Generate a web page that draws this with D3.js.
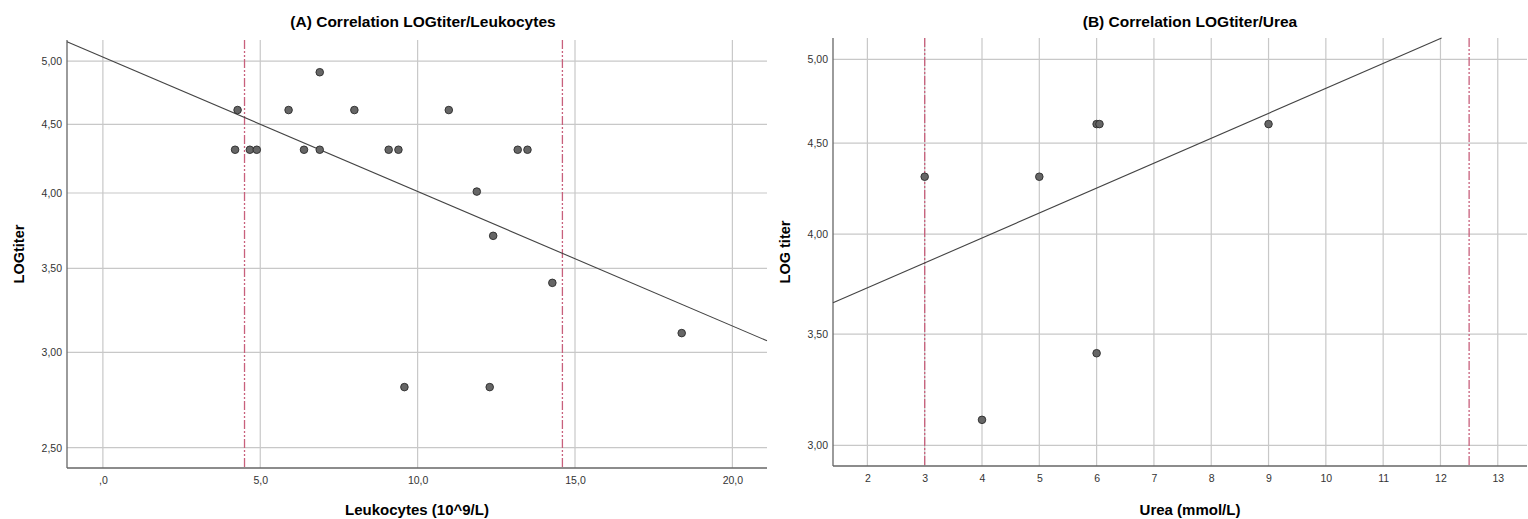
<!DOCTYPE html>
<html>
<head>
<meta charset="utf-8">
<script src="https://cdn.jsdelivr.net/npm/d3@7"></script>
<style>
  body { margin: 0; background: #fff; }
  svg { display: block; font-family: "Liberation Sans", Arial, sans-serif; }
</style>
</head>
<body>
<svg width="1528" height="519"></svg>
<script>
// panel A: leukocytes vs LOG titer
var leukoX = [4.2, 4.28, 4.67, 4.89, 5.9, 6.39, 6.89, 6.89, 7.99, 9.08, 9.39, 10.99, 11.88, 12.4, 13.18, 13.49, 14.28, 18.39, 9.58, 12.29];
var leukoY = [4.31, 4.61, 4.31, 4.31, 4.61, 4.31, 4.91, 4.31, 4.61, 4.31, 4.31, 4.61, 4.01, 3.71, 4.31, 4.31, 3.41, 3.11, 2.81, 2.81];
var leukoTicksX = [0, 5, 10, 15, 20];
var leukoTicksY = [2.5, 3, 3.5, 4, 4.5, 5];
var leukoRefLines = [4.5, 14.6];
var leukoFit = [[-1.14, 5.163], [21.1, 3.066]];

// panel B: urea vs LOG titer
var ureaX = [3, 5, 6, 6.05, 9, 4, 6];
var ureaY = [4.31, 4.31, 4.61, 4.61, 4.61, 3.11, 3.41];
var ureaTicksX = [2, 3, 4, 5, 6, 7, 8, 9, 10, 11, 12, 13];
var ureaTicksY = [3, 3.5, 4, 4.5, 5];
var ureaRefLines = [3, 12.5];
var ureaFit = [[1.4, 3.651], [12.02, 5.134]];

var svg = d3.select("svg");

function comma(dec) {
  return function(d) {
    var s = d3.format("." + dec + "f")(d).replace(".", ",");
    if (dec > 0 && s.indexOf("0,") === 0 && d === 0) s = s.slice(1);
    return s;
  };
}

function drawPanel(p) {
  var x = d3.scaleLinear().domain(p.xDomain).range([p.left, p.right]);
  var y = d3.scalePow().exponent(0.25).domain(p.yDomain).range([p.bottom, p.top]);
  var g = svg.append("g");

  // grid
  g.selectAll(".vgrid").data(p.ticksX).enter().append("line")
    .attr("x1", function(d) { return x(d); }).attr("x2", function(d) { return x(d); })
    .attr("y1", p.top).attr("y2", p.bottom)
    .attr("stroke", "#c8c8c8").attr("stroke-width", 1.2);
  g.selectAll(".hgrid").data(p.ticksY).enter().append("line")
    .attr("x1", p.left).attr("x2", p.right)
    .attr("y1", function(d) { return y(d); }).attr("y2", function(d) { return y(d); })
    .attr("stroke", "#c8c8c8").attr("stroke-width", 1.2);

  // reference lines
  g.selectAll(".ref").data(p.refLines).enter().append("line")
    .attr("x1", function(d) { return x(d); }).attr("x2", function(d) { return x(d); })
    .attr("y1", p.top).attr("y2", p.bottom)
    .attr("stroke", "#c8607c").attr("stroke-width", 1.3)
    .attr("stroke-dasharray", "9,2,2,2,2,2");

  // axes
  var ax = d3.axisBottom(x).tickValues(p.ticksX).tickSize(0).tickPadding(9).tickFormat(p.xFormat);
  var ay = d3.axisLeft(y).tickValues(p.ticksY).tickSize(0).tickPadding(5).tickFormat(comma(2));
  var gx = g.append("g").attr("transform", "translate(0," + p.bottom + ")").call(ax);
  var gy = g.append("g").attr("transform", "translate(" + p.left + ",0)").call(ay);
  gx.select(".domain").remove();
  gy.select(".domain").remove();
  [gx, gy].forEach(function(a) {
    a.selectAll("text").attr("font-size", 10.5).attr("fill", "#333")
      .attr("font-family", "Liberation Sans, Arial, sans-serif");
  });
  g.append("line").attr("x1", p.left).attr("x2", p.left).attr("y1", p.top).attr("y2", p.bottom)
    .attr("stroke", "#666").attr("stroke-width", 1.3);
  g.append("line").attr("x1", p.left).attr("x2", p.right).attr("y1", p.bottom).attr("y2", p.bottom)
    .attr("stroke", "#666").attr("stroke-width", 1.3);

  // fit line
  g.append("line")
    .attr("x1", x(p.fit[0][0])).attr("y1", y(p.fit[0][1]))
    .attr("x2", x(p.fit[1][0])).attr("y2", y(p.fit[1][1]))
    .attr("stroke", "#444").attr("stroke-width", 1.1);

  // points
  g.selectAll(".pt").data(d3.range(p.xs.length)).enter().append("circle")
    .attr("cx", function(i) { return x(p.xs[i]); })
    .attr("cy", function(i) { return y(p.ys[i]); })
    .attr("r", 3.8)
    .attr("fill", "#666").attr("stroke", "#2a2a2a").attr("stroke-width", 0.9);

  // titles
  svg.append("text").attr("x", p.titleX).attr("y", 27).attr("text-anchor", "middle")
    .attr("font-size", 15.5).attr("font-weight", "bold").text(p.title);
  svg.append("text").attr("x", p.xLabelX).attr("y", 515).attr("text-anchor", "middle")
    .attr("font-size", 15).attr("font-weight", "bold").text(p.xLabel);
  svg.append("text")
    .attr("transform", "translate(" + p.yLabelX + "," + ((p.top + p.bottom) / 2) + ") rotate(-90)")
    .attr("text-anchor", "middle").attr("font-size", 14.5).attr("font-weight", "bold").text(p.yLabel);
}

drawPanel({
  xs: leukoX, ys: leukoY, ticksX: leukoTicksX, ticksY: leukoTicksY,
  refLines: leukoRefLines, fit: leukoFit,
  xDomain: [-1.14, 21.1], yDomain: [2.402, 5.177],
  left: 67, right: 767, top: 40, bottom: 468,
  xFormat: comma(1),
  title: "(A) Correlation LOGtiter/Leukocytes", titleX: 423,
  xLabel: "Leukocytes (10^9/L)", xLabelX: 417,
  yLabel: "LOGtiter", yLabelX: 24
});

drawPanel({
  xs: ureaX, ys: ureaY, ticksX: ureaTicksX, ticksY: ureaTicksY,
  refLines: ureaRefLines, fit: ureaFit,
  xDomain: [1.4, 13.51], yDomain: [2.914, 5.134],
  left: 833, right: 1527, top: 38, bottom: 466,
  xFormat: d3.format("d"),
  title: "(B) Correlation LOGtiter/Urea", titleX: 1190,
  xLabel: "Urea (mmol/L)", xLabelX: 1190,
  yLabel: "LOG titer", yLabelX: 790
});
</script>
</body>
</html>
